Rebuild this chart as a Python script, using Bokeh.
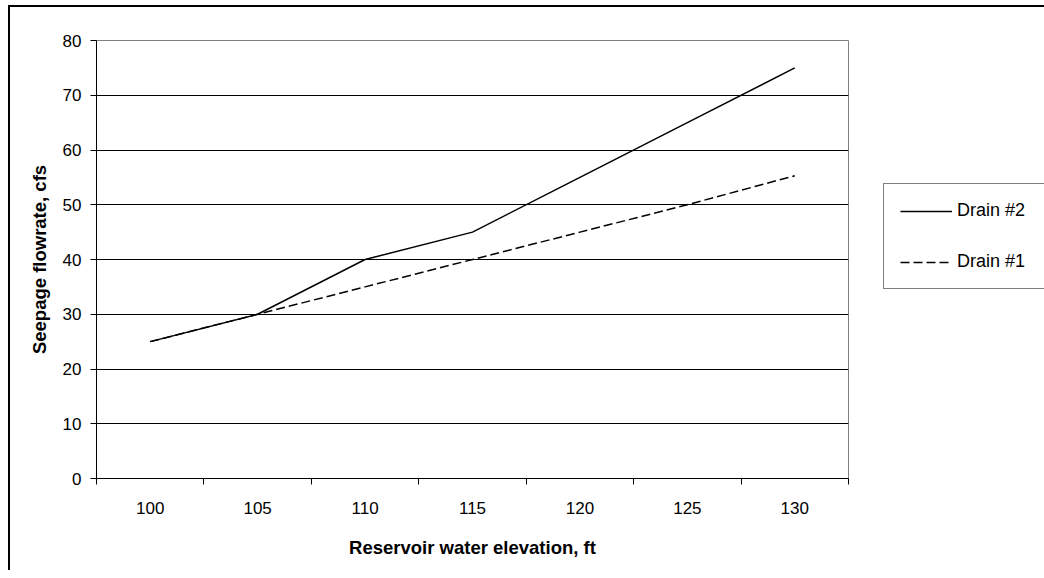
from bokeh.plotting import figure
from bokeh.models import (Range1d, FixedTicker, Legend, LegendItem, ColumnDataSource)
from bokeh.embed import file_html
from bokeh.resources import INLINE

elevations = ["100", "105", "110", "115", "120", "125", "130"]
drain2 = [25, 30, 40, 45, 55, 65, 75]
drain1 = [25, 30, 35, 40, 45, 50, 55.3]
y_ticks = [0, 10, 20, 30, 40, 50, 60, 70, 80]

FONT = "Liberation Sans"

n = len(elevations)
xpos = list(range(n))  # category positions
bounds = [i - 0.5 for i in range(n + 1)]  # tick marks between categories

p = figure(frame_width=752, frame_height=438,
           x_range=Range1d(-0.5, n - 0.5), y_range=Range1d(0, 80),
           output_backend="svg", toolbar_location=None,
           min_border_left=96, min_border_top=40, min_border_right=196, min_border_bottom=92)
p.border_fill_color = None
p.background_fill_color = "white"
p.outline_line_color = "#808080"
p.outline_line_width = 1
p.styles = {"box-shadow": "inset 8px 5px 0 0 white, inset 10px 7px 0 0 black"}

p.xgrid.visible = False
p.ygrid.ticker = FixedTicker(ticks=y_ticks[1:-1])
p.ygrid.grid_line_color = "black"
p.ygrid.grid_line_width = 1

ya = p.yaxis[0]
ya.ticker = FixedTicker(ticks=y_ticks)
ya.axis_line_color = "black"
ya.major_tick_line_color = "black"
ya.major_tick_out = 6
ya.major_tick_in = 0
ya.minor_tick_line_color = None
ya.major_label_standoff = 9
ya.major_label_text_font = FONT
ya.major_label_text_font_size = "17px"
ya.major_label_text_color = "black"
ya.axis_label = "Seepage flowrate, cfs"
ya.axis_label_text_font = FONT
ya.axis_label_text_font_size = "18.5px"
ya.axis_label_text_font_style = "bold"
ya.axis_label_text_color = "black"
ya.axis_label_standoff = 10

xa = p.xaxis[0]
xa.ticker = FixedTicker(ticks=xpos, minor_ticks=bounds)
xa.major_label_overrides = {i: lab for i, lab in zip(xpos, elevations)}
xa.axis_line_color = "black"
xa.major_tick_line_color = None
xa.major_tick_out = 0
xa.major_tick_in = 0
xa.minor_tick_line_color = "black"
xa.minor_tick_out = 6
xa.minor_tick_in = 0
xa.major_label_standoff = 17
xa.major_label_text_font = FONT
xa.major_label_text_font_size = "17px"
xa.major_label_text_color = "black"
xa.axis_label = "Reservoir water elevation, ft"
xa.axis_label_text_font = FONT
xa.axis_label_text_font_size = "18.5px"
xa.axis_label_text_font_style = "bold"
xa.axis_label_text_color = "black"
xa.axis_label_standoff = 20

src = ColumnDataSource(dict(x=xpos, d2=drain2, d1=drain1))
r2 = p.line("x", "d2", source=src, line_color="black", line_width=1.5)
r1 = p.line("x", "d1", source=src, line_color="black", line_width=1.5, line_dash="9 4")

legend = Legend(items=[LegendItem(label="Drain #2", renderers=[r2]),
                       LegendItem(label="Drain #1", renderers=[r1])],
                location=(35, 189))
legend.border_line_color = "black"
legend.border_line_width = 1
legend.background_fill_color = "white"
legend.background_fill_alpha = 1
legend.label_text_font = FONT
legend.label_text_font_size = "18px"
legend.label_text_color = "black"
legend.glyph_width = 52
legend.glyph_height = 18
legend.label_height = 18
legend.label_width = 78
legend.label_standoff = 5
legend.padding = 16
legend.spacing = 30
legend.margin = 0
p.add_layout(legend, "right")

open("out.html", "w").write(file_html(p, INLINE))
